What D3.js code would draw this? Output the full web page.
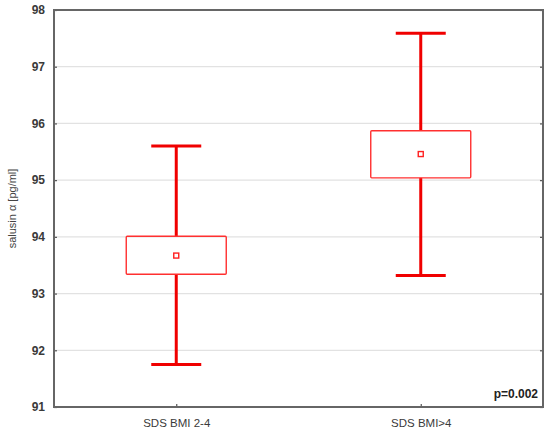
<!DOCTYPE html>
<html><head><meta charset="utf-8">
<script src="https://cdn.jsdelivr.net/npm/d3@7"></script>
<style>body{margin:0;background:#fff}</style>
</head><body>
<svg id="c" width="550" height="430"></svg>
<script>
const categories = ["SDS BMI 2-4", "SDS BMI>4"];
const means = [93.67, 95.46];
const boxLow = [93.34, 95.04];
const boxHigh = [94.01, 95.87];
const whiskerLow = [91.75, 93.32];
const whiskerHigh = [95.60, 97.59];
const yTicks = [91, 92, 93, 94, 95, 96, 97, 98];
const yLabel = "salusin α [pg/ml]";
const pText = "p=0.002";

const svg = d3.select("#c");
const L = 54, R = 543, T = 10, B = 407;
const x = d3.scalePoint().domain(categories).range([L, R]).padding(0.5);
const y = d3.scaleLinear().domain([91, 98]).range([B, T]);
const font = "Arial, 'Liberation Sans', sans-serif";

// gridlines
svg.append("g").selectAll("line").data(yTicks.slice(1, -1)).join("line")
  .attr("x1", L).attr("x2", R).attr("y1", d => y(d)).attr("y2", d => y(d))
  .attr("stroke", "#e2e2e2").attr("stroke-width", 1.2);

// axes with inward ticks
const yl = svg.append("g").attr("transform", `translate(${L},0)`)
  .call(d3.axisLeft(y).tickValues(yTicks).tickSize(-3).tickPadding(9).tickFormat(d3.format("d")));
const yr = svg.append("g").attr("transform", `translate(${R},0)`)
  .call(d3.axisRight(y).tickValues(yTicks).tickSize(-3).tickFormat(""));
const xb = svg.append("g").attr("transform", `translate(0,${B})`)
  .call(d3.axisBottom(x).tickSize(-3).tickPadding(10));
[yl, yr, xb].forEach(g => {
  g.select(".domain").remove();
  g.selectAll(".tick line").attr("stroke", "#555").attr("stroke-width", 1.2);
  g.selectAll("text").attr("fill", "#3a3a3a").style("font-family", font).style("font-size", "11px");
});
yl.selectAll("text").style("font-weight", "bold").style("font-size", "12px");
xb.selectAll("text").attr("dy", "0.9em").style("font-size", "11.5px");

// frame
svg.append("rect").attr("x", L).attr("y", T).attr("width", R - L).attr("height", B - T)
  .attr("fill", "none").attr("stroke", "#666").attr("stroke-width", 2);

// whiskers
const red = "#f00000";
const g = svg.append("g");
categories.forEach((c, i) => {
  const cx = x(c);
  g.append("line").attr("x1", cx).attr("x2", cx).attr("y1", y(whiskerHigh[i])).attr("y2", y(boxHigh[i]))
    .attr("stroke", red).attr("stroke-width", 3);
  g.append("line").attr("x1", cx).attr("x2", cx).attr("y1", y(boxLow[i])).attr("y2", y(whiskerLow[i]))
    .attr("stroke", red).attr("stroke-width", 3);
  [whiskerHigh[i], whiskerLow[i]].forEach(v => {
    g.append("line").attr("x1", cx - 25).attr("x2", cx + 25).attr("y1", y(v)).attr("y2", y(v))
      .attr("stroke", red).attr("stroke-width", 3);
  });
  g.append("rect").attr("x", cx - 50).attr("width", 100)
    .attr("y", y(boxHigh[i])).attr("height", y(boxLow[i]) - y(boxHigh[i]))
    .attr("fill", "none").attr("stroke", "#ff3030").attr("stroke-width", 1.4).attr("rx", 1);
  g.append("rect").attr("x", cx - 2.5).attr("y", y(means[i]) - 2.5).attr("width", 5).attr("height", 5)
    .attr("fill", "none").attr("stroke", "#ff2020").attr("stroke-width", 1.4);
});

// y label
svg.append("text").attr("transform", `translate(12,${(T + B) / 2}) rotate(-90)`)
  .attr("text-anchor", "middle").attr("dy", "0.35em")
  .style("font-family", font).style("font-size", "11px").attr("fill", "#444").text(yLabel);

// p value
svg.append("text").attr("x", R - 5).attr("y", B - 9).attr("text-anchor", "end")
  .style("font-family", font).style("font-size", "12px").style("font-weight", "bold")
  .attr("fill", "#222").text(pText);
</script>
</body></html>
